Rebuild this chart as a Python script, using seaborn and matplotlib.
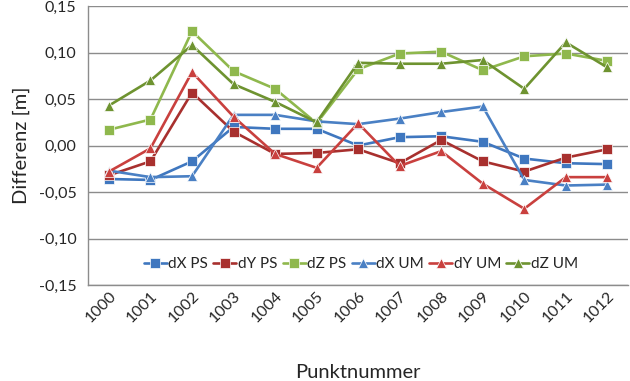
import pandas as pd
import matplotlib
matplotlib.use("Agg")
import matplotlib.pyplot as plt
from matplotlib.ticker import FuncFormatter, FixedLocator
import seaborn as sns


# ======================================
# DATA
# ======================================

punkte = ["1000", "1001", "1002", "1003", "1004", "1005", "1006",
          "1007", "1008", "1009", "1010", "1011", "1012"]

dx_ps = [-0.036, -0.037, -0.017, 0.020, 0.018, 0.018, 0.000,
         0.009, 0.010, 0.004, -0.014, -0.019, -0.020]
dy_ps = [-0.032, -0.017, 0.057, 0.015, -0.009, -0.008, -0.004,
         -0.019, 0.006, -0.017, -0.028, -0.013, -0.004]
dz_ps = [0.017, 0.028, 0.123, 0.080, 0.061, 0.024, 0.082,
         0.099, 0.101, 0.081, 0.096, 0.099, 0.091]
dx_um = [-0.027, -0.034, -0.033, 0.033, 0.033, 0.026, 0.023,
         0.029, 0.036, 0.042, -0.037, -0.043, -0.042]
dy_um = [-0.028, -0.003, 0.079, 0.031, -0.009, -0.024, 0.024,
         -0.022, -0.006, -0.041, -0.068, -0.034, -0.034]
dz_um = [0.043, 0.070, 0.108, 0.066, 0.047, 0.025, 0.089,
         0.088, 0.088, 0.092, 0.061, 0.111, 0.084]

series_names = ["dX PS", "dY PS", "dZ PS", "dX UM", "dY UM", "dZ UM"]
series_values = [dx_ps, dy_ps, dz_ps, dx_um, dy_um, dz_um]


# ======================================
# LONG DATAFRAME
# ======================================

rows = []
for name, values in zip(series_names, series_values):
    for p, v in zip(punkte, values):
        rows.append({"Punkt": p, "Differenz": v, "Serie": name})
df = pd.DataFrame(rows)


# ======================================
# STYLE
# ======================================

sns.set_style("white")
plt.rcParams["font.family"] = ["Lato", "DejaVu Sans"]

palette = {
    "dX PS": "#3F77BF",
    "dY PS": "#A8302E",
    "dZ PS": "#8FB84D",
    "dX UM": "#4A80C4",
    "dY UM": "#C9403E",
    "dZ UM": "#6E9330",
}
markers = {
    "dX PS": "s", "dY PS": "s", "dZ PS": "s",
    "dX UM": "^", "dY UM": "^", "dZ UM": "^",
}


# ======================================
# PLOT
# ======================================

fig = plt.figure(figsize=(6.3, 3.81), dpi=100)
ax = fig.add_axes([0.14, 0.252, 0.857, 0.732])

sns.lineplot(
    data=df,
    x="Punkt",
    y="Differenz",
    hue="Serie",
    style="Serie",
    palette=palette,
    markers=markers,
    dashes=False,
    linewidth=1.9,
    markersize=7,
    markeredgewidth=0.5,
    ax=ax,
)

ax.set_xlim(-0.5, len(punkte) - 0.5)
ax.set_ylim(-0.15, 0.15)
ax.set_yticks([-0.15, -0.10, -0.05, 0.0, 0.05, 0.10, 0.15])
ax.yaxis.set_major_formatter(
    FuncFormatter(lambda v, _: f"{v:.2f}".replace(".", ","))
)
ax.yaxis.grid(True, color="#8c8c8c", linewidth=1.0)
ax.set_axisbelow(True)

ax.tick_params(axis="x", which="major", length=0, labelsize=11.5,
               labelrotation=45, pad=3)
ax.xaxis.set_minor_locator(
    FixedLocator([i - 0.5 for i in range(len(punkte) + 1)])
)
ax.tick_params(axis="x", which="minor", length=5, color="#8c8c8c",
               width=1.0, direction="out")
ax.tick_params(axis="y", length=5, color="#8c8c8c", labelsize=11.5,
               direction="out")
for lbl in ax.get_xticklabels():
    lbl.set_ha("right")
    lbl.set_rotation_mode("anchor")

for side in ["top", "right"]:
    ax.spines[side].set_visible(False)
for side in ["left", "bottom"]:
    ax.spines[side].set_color("#8c8c8c")
    ax.spines[side].set_linewidth(1.0)

ax.set_xlabel("Punktnummer", fontsize=14.5, labelpad=28)
ax.set_ylabel("Differenz [m]", fontsize=14.5, labelpad=6)

ax.legend(
    loc="center",
    bbox_to_anchor=(0.505, 0.075),
    ncol=6,
    frameon=False,
    fontsize=11,
    handlelength=1.5,
    handletextpad=0.1,
    columnspacing=0.35,
    borderpad=0.2,
)

fig.savefig("out.png", dpi=100)
